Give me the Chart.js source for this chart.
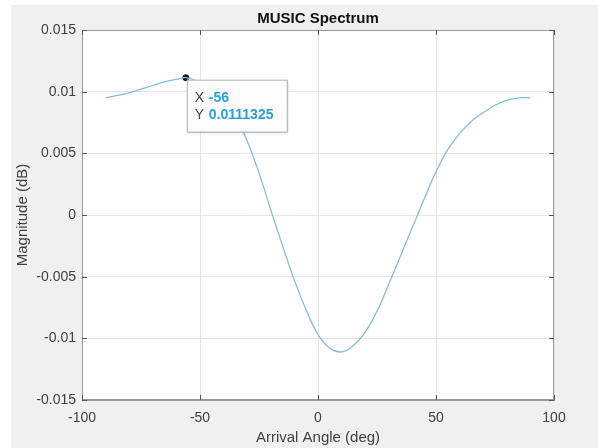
<!DOCTYPE html>
<html>
<head>
<meta charset="utf-8">
<script src="https://cdn.jsdelivr.net/npm/chart.js@4.4.0/dist/chart.umd.min.js"></script>
<style>
  html, body { margin: 0; padding: 0; background: #fff; }
</style>
</head>
<body>
<canvas id="canv" width="598" height="448"></canvas>
<script>
// data
const angles = [-90, -85, -80, -75, -70, -65, -60, -56, -50, -45, -40, -35, -30, -25, -20, -15, -10, -5, 0,
  5, 10, 15, 20, 25, 30, 35, 40, 45, 50, 55, 60, 65, 70, 75, 80, 85, 90];
const magnitude = [0.0095, 0.0097, 0.0099, 0.0102, 0.0105, 0.0108, 0.0110, 0.0111325, 0.0108, 0.0103, 0.0095,
  0.0081, 0.0060, 0.0034, 0.0004, -0.0025, -0.0053, -0.0077, -0.0097,
  -0.0108, -0.0111, -0.0106, -0.0095, -0.0078, -0.0056, -0.0033, -0.0010, 0.0013, 0.0035, 0.0053,
  0.0066, 0.0076, 0.0083, 0.0089, 0.0093, 0.0095, 0.0095];
const xTicks = [-100, -50, 0, 50, 100];
const yTicks = [-0.015, -0.01, -0.005, 0, 0.005, 0.01, 0.015];
const yTickLabels = ['-0.015', '-0.01', '-0.005', '0', '0.005', '0.01', '0.015'];
const tipAngle = [-56];
const tipValue = [0.0111325];
const chartTitle = 'MUSIC Spectrum';

const FONT = "'Liberation Sans', Arial, sans-serif";

const matlabLook = {
  id: 'matlabLook',
  beforeDraw(chart) {
    const {ctx, chartArea: a} = chart;
    ctx.save();
    ctx.fillStyle = '#fff';
    ctx.fillRect(0, 0, chart.width, chart.height);
    ctx.fillStyle = '#f0f0f0';
    ctx.fillRect(11, 5, chart.width - 11, chart.height - 5);
    ctx.fillStyle = '#fff';
    ctx.fillRect(a.left, a.top, a.right - a.left, a.bottom - a.top);
    // title centred over the axes
    ctx.fillStyle = '#111';
    ctx.font = 'bold 15px ' + FONT;
    ctx.textAlign = 'center';
    ctx.textBaseline = 'middle';
    ctx.fillText(chartTitle, (a.left + a.right) / 2, 19);
    ctx.restore();
  },
  afterDatasetsDraw(chart) {
    const {ctx, chartArea: a, scales} = chart;
    ctx.save();
    // box + inward ticks
    ctx.strokeStyle = '#9a9a9a';
    ctx.lineWidth = 1;
    ctx.strokeRect(a.left + 0.5, a.top + 0.5, a.right - a.left - 1, a.bottom - a.top - 1);
    ctx.strokeStyle = '#555';
    ctx.beginPath();
    xTicks.forEach(v => {
      const x = Math.round(scales.x.getPixelForValue(v)) + 0.5;
      ctx.moveTo(x, a.bottom); ctx.lineTo(x, a.bottom - 5);
      ctx.moveTo(x, a.top); ctx.lineTo(x, a.top + 5);
    });
    yTicks.forEach(v => {
      const y = Math.round(scales.y.getPixelForValue(v)) + 0.5;
      ctx.moveTo(a.left, y); ctx.lineTo(a.left + 5, y);
      ctx.moveTo(a.right, y); ctx.lineTo(a.right - 5, y);
    });
    ctx.stroke();

    // data tip
    const pt = chart.getDatasetMeta(1).data[0];
    const bx = pt.x + 1, by = pt.y + 2, bw = 100, bh = 52;
    ctx.shadowColor = 'rgba(0,0,0,0.25)';
    ctx.shadowBlur = 3;
    ctx.shadowOffsetX = 1;
    ctx.shadowOffsetY = 1;
    ctx.fillStyle = 'rgba(255,255,255,0.95)';
    ctx.fillRect(bx, by, bw, bh);
    ctx.shadowColor = 'transparent';
    ctx.strokeStyle = '#b4b4b4';
    ctx.strokeRect(bx + 0.5, by + 0.5, bw, bh);
    ctx.textBaseline = 'middle';
    ctx.textAlign = 'left';
    ctx.fillStyle = '#404040';
    ctx.font = '14px ' + FONT;
    ctx.fillText('X', bx + 8, by + 18);
    ctx.fillText('Y', bx + 8, by + 35);
    ctx.fillStyle = '#2a9fd8';
    ctx.font = 'bold 14px ' + FONT;
    ctx.fillText(String(tipAngle[0]), bx + 22, by + 18);
    ctx.fillText(String(tipValue[0]), bx + 22, by + 35);
    ctx.restore();
  }
};

const ctx = document.getElementById('canv').getContext('2d');
new Chart(ctx, {
  type: 'line',
  data: {
    datasets: [{
      data: angles.map((a, i) => ({x: a, y: magnitude[i]})),
      borderColor: '#88bdd6',
      borderWidth: 1.3,
      pointRadius: 0,
      tension: 0.4,
      fill: false
    }, {
      data: tipAngle.map((a, i) => ({x: a, y: tipValue[i]})),
      showLine: false,
      pointRadius: 3,
      pointBackgroundColor: '#111',
      pointBorderColor: '#111'
    }]
  },
  options: {
    responsive: false,
    animation: false,
    events: [],
    layout: { padding: { left: 0, right: 44, top: 30, bottom: 0 } },
    plugins: {
      legend: { display: false },
      tooltip: { enabled: false },
      title: { display: false }
    },
    scales: {
      x: {
        type: 'linear',
        min: -100, max: 100,
        afterBuildTicks: s => { s.ticks = xTicks.map(v => ({value: v})); },
        afterFit: s => { s.height = 48; },
        grid: { color: '#e6e6e6', drawTicks: false },
        border: { color: '#9a9a9a' },
        ticks: { color: '#404040', padding: 10, font: { family: FONT, size: 14 } },
        title: {
          display: true, text: 'Arrival Angle (deg)', color: '#404040',
          font: { family: FONT, size: 15 }, padding: { top: 0, bottom: 1 }
        }
      },
      y: {
        type: 'linear',
        min: -0.015, max: 0.015,
        afterBuildTicks: s => { s.ticks = yTicks.map(v => ({value: v})); },
        afterFit: s => { s.width = 82; },
        grid: { color: '#e6e6e6', drawTicks: false },
        border: { color: '#9a9a9a' },
        ticks: {
          color: '#404040', padding: 6, font: { family: FONT, size: 14 },
          callback: (v) => yTickLabels[yTicks.indexOf(v)] ?? ''
        },
        title: {
          display: true, text: 'Magnitude (dB)', color: '#404040',
          font: { family: FONT, size: 15 }, padding: { top: 14, bottom: 0 }
        }
      }
    }
  },
  plugins: [matlabLook]
});
</script>
</body>
</html>
